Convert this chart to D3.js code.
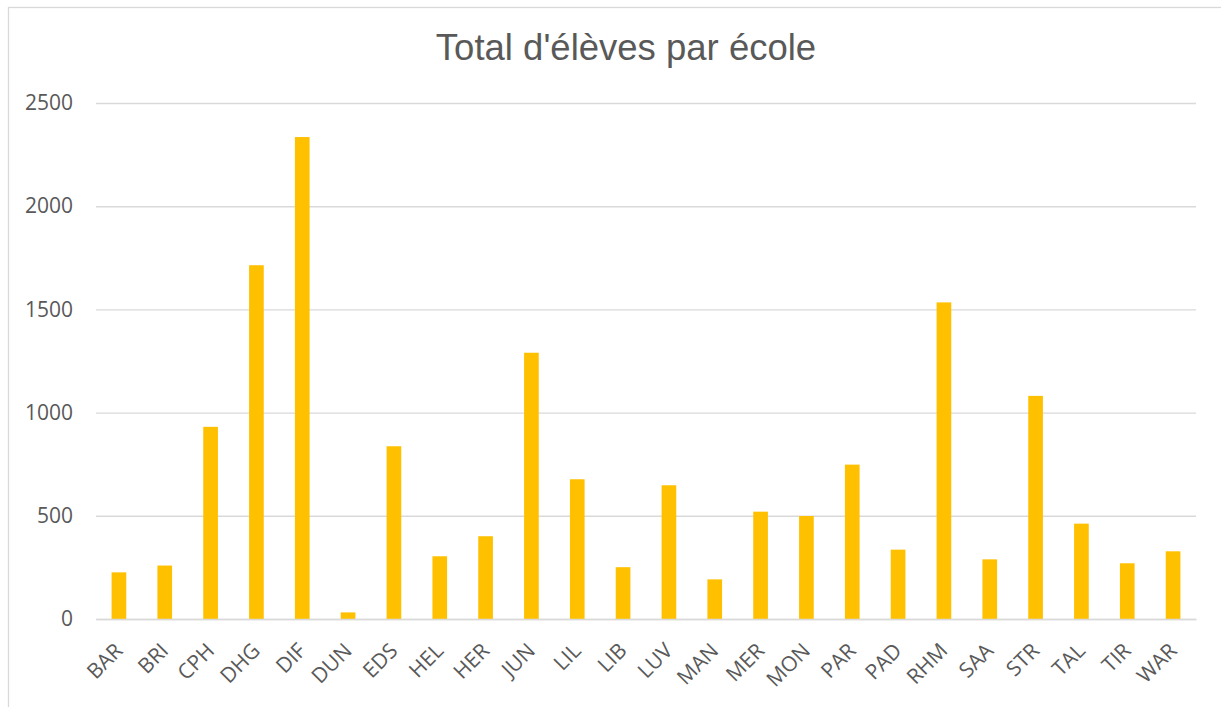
<!DOCTYPE html>
<html>
<head>
<meta charset="utf-8">
<script src="https://cdn.jsdelivr.net/npm/d3@7"></script>
<style>
  html, body { margin: 0; padding: 0; background: #fff; }
  svg { display: block; }
</style>
</head>
<body>
<svg id="chart" width="1221" height="707"></svg>
<script>
const title = "Total d'élèves par école";
const categories = ["BAR","BRI","CPH","DHG","DIF","DUN","EDS","HEL","HER","JUN","LIL","LIB","LUV","MAN","MER","MON","PAR","PAD","RHM","SAA","STR","TAL","TIR","WAR"];
const values = [226, 259, 931, 1714, 2335, 32, 837, 304, 401, 1290, 677, 251, 648, 192, 520, 499, 748, 336, 1534, 289, 1081, 462, 270, 328];
const yTicks = [0, 500, 1000, 1500, 2000, 2500];

const svg = d3.select("#chart");
const W = 1221, H = 707;
const plot = { left: 96, right: 1196, top: 103, bottom: 619 };

svg.append("rect").attr("width", W).attr("height", H).attr("fill", "#fff");
svg.append("rect")
  .attr("x", 8.5).attr("y", 7.5).attr("width", 1300).attr("height", 800)
  .attr("fill", "none").attr("stroke", "#d9d9d9").attr("stroke-width", 1.3);

const x = d3.scaleBand().domain(categories)
  .range([plot.left, plot.right]).paddingInner(0.68).paddingOuter(0.34);
const y = d3.scaleLinear().domain([0, 2500]).range([plot.bottom, plot.top]);

// gridlines
const yAxis = d3.axisLeft(y).tickValues(yTicks).tickFormat(d3.format("d"))
  .tickSize(-(plot.right - plot.left)).tickPadding(23);
const gy = svg.append("g").attr("transform", `translate(${plot.left},0)`).call(yAxis);
gy.select(".domain").remove();
gy.selectAll(".tick line").attr("stroke", "#d9d9d9").attr("stroke-width", 1.4);
gy.selectAll(".tick text")
  .attr("fill", "#595959")
  .style("font-family", "'Open Sans', sans-serif")
  .style("font-size", "21px");

// bars
svg.append("g").selectAll("rect").data(categories).join("rect")
  .attr("x", d => x(d))
  .attr("width", x.bandwidth())
  .attr("y", (d, i) => y(values[i]))
  .attr("height", (d, i) => y(0) - y(values[i]))
  .attr("fill", "#FFC000");

// x axis
const xAxis = d3.axisBottom(x).tickSize(0).tickPadding(0);
const gx = svg.append("g").attr("transform", `translate(0,${plot.bottom})`).call(xAxis);
gx.select(".domain").attr("stroke", "#d9d9d9").attr("stroke-width", 1.5);
gx.selectAll(".tick text")
  .attr("fill", "#595959")
  .style("font-family", "'Open Sans', sans-serif")
  .style("font-size", "21px")
  .attr("text-anchor", "end")
  .attr("dy", null)
  .attr("y", null)
  .attr("transform", "translate(5,33) rotate(-45)");

// title
svg.append("text")
  .attr("x", 626).attr("y", 60)
  .attr("text-anchor", "middle")
  .attr("fill", "#595959")
  .style("font-family", "'Liberation Sans', Arial, sans-serif")
  .style("font-size", "36.5px")
  .text(title);
</script>
</body>
</html>
